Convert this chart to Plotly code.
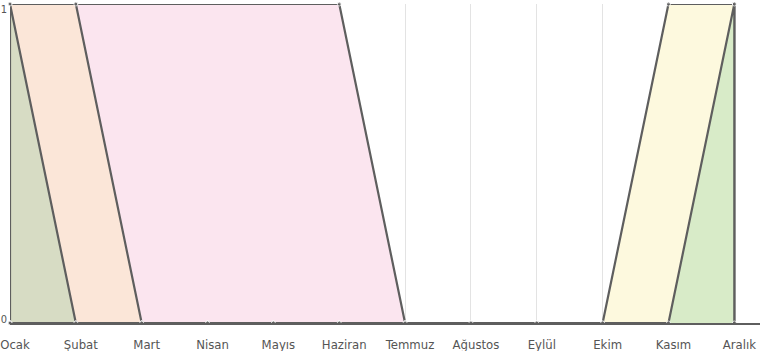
import plotly.graph_objects as go

months = ["Ocak", "Şubat", "Mart", "Nisan", "Mayıs", "Haziran",
          "Temmuz", "Ağustos", "Eylül", "Ekim", "Kasım", "Aralık"]

series_pink   = [0, 1, 1, 1, 1, 1, 0, 0, 0, 0, 0, 0]
series_peach  = [1, 1, 0, 0, 0, 0, 0, 0, 0, 0, 0, 0]
series_sage   = [1, 0, 0, 0, 0, 0, 0, 0, 0, 0, 0, 0]
series_yellow = [0, 0, 0, 0, 0, 0, 0, 0, 0, 0, 1, 1]
series_green  = [0, 0, 0, 0, 0, 0, 0, 0, 0, 0, 0, 1]

y_tick_text = ["0", "1"]

series = [
    ("Seri 1", series_pink, "#fbe5ef"),
    ("Seri 2", series_peach, "#fbe6d8"),
    ("Seri 3", series_sage, "#d7dcc4"),
    ("Seri 4", series_yellow, "#fdf9de"),
    ("Seri 5", series_green, "#d8ebc8"),
]

LINE = "#5e5e5e"
FONT = "DejaVu Sans Condensed, Liberation Sans Narrow, sans-serif"
fig = go.Figure()
for name, vals, col in series:
    xs = [months[0]] + months + [months[-1]]
    ys = [0] + vals + [0]
    n = len(ys)
    sizes = []
    for i in range(n):
        if 0 < i < n - 1 and ys[i] > 0 and ys[i - 1] == ys[i] == ys[i + 1]:
            sizes.append(0)
        else:
            sizes.append(4)
    fig.add_trace(go.Scatter(
        x=xs, y=ys, name=name, mode="lines+markers", fill="toself",
        fillcolor=col, line=dict(color=LINE, width=2.2),
        marker=dict(color=LINE, size=sizes), cliponaxis=False,
        showlegend=False, hoverinfo="skip"))

fig.update_layout(
    width=761, height=351,
    margin=dict(l=10, r=1, t=4, b=28),
    plot_bgcolor="white", paper_bgcolor="white",
    font=dict(family=FONT, size=12, color="#555555"),
)
fig.update_xaxes(type="category", categoryorder="array", categoryarray=months,
                 range=[0, 11.39], showgrid=True, gridcolor="#e3e3e3", gridwidth=1,
                 showline=True, linecolor=LINE, linewidth=1.5, ticks="",
                 zeroline=False, automargin=False, ticklabelstandoff=9,
                 ticklabelshift=5,
                 tickfont=dict(family=FONT, size=13, color="#555555"))
fig.update_yaxes(range=[0, 1], tickvals=[0.012, 0.985], ticktext=y_tick_text,
                 showgrid=False, zeroline=False, showline=False, ticks="",
                 automargin=False, ticklabelstandoff=2, ticklabeloverflow="allow",
                 tickfont=dict(family=FONT, size=11, color="#555555"))

fig.write_html("out.html")
